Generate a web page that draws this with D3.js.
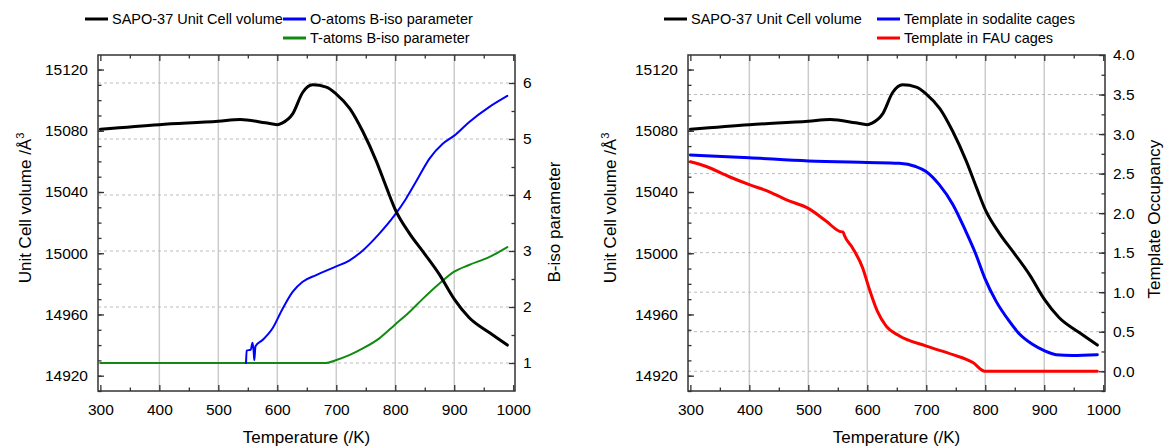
<!DOCTYPE html>
<html>
<head>
<meta charset="utf-8">
<script src="https://cdn.jsdelivr.net/npm/d3@7"></script>
<style>
  body { margin: 0; background: #fff; }
  svg { font-family: "Liberation Sans", Arial, sans-serif; }
  .tick text { font-size: 15.5px; fill: #000; }
  .tick line { stroke: #333; stroke-width: 1.3; }
  .legend text { font-size: 14.5px; }
  .title { font-size: 17px; }
</style>
</head>
<body>
<svg id="graphic-svg" width="1166" height="447"></svg>
<script>
////////////////////////////////////////////////////////////////////////////////////
// Data
// Unit cell volume, same curve in both panels
var temp_cell = [300, 400, 500, 537, 580, 600, 608, 626, 643, 660, 683, 700, 723, 745, 768, 785, 800, 824, 847, 875, 900, 925, 960, 990];
var cellVolume = [15081, 15084, 15086.2, 15087.3, 15085.2, 15084, 15085, 15091, 15105, 15110, 15108.5, 15104, 15094.5, 15079.5, 15060, 15043, 15028.5, 15013, 15001, 14986, 14970, 14958, 14948, 14940];

// Left panel: B-iso parameters
var temp_O = [547, 548, 555, 558, 560, 561, 563, 575, 592, 609, 626, 643, 666, 699, 722, 745, 773, 799, 818, 838, 858, 880, 900, 925, 959, 990];
var bisoO = [1.0, 1.22, 1.24, 1.36, 1.2, 1.05, 1.3, 1.41, 1.62, 1.97, 2.27, 2.45, 2.57, 2.72, 2.83, 3.01, 3.31, 3.64, 3.93, 4.29, 4.65, 4.91, 5.06, 5.3, 5.57, 5.77];
var temp_T = [300, 682, 699, 722, 745, 773, 799, 824, 847, 875, 900, 925, 959, 990];
var bisoT = [1.0, 1.0, 1.05, 1.14, 1.26, 1.44, 1.68, 1.91, 2.15, 2.42, 2.63, 2.75, 2.89, 3.07];

// Right panel: template occupancy
var temp_sod = [300, 400, 500, 600, 654, 682, 699, 722, 745, 767, 784, 799, 818, 841, 858, 880, 900, 920, 948, 990];
var occSodalite = [2.735, 2.70, 2.66, 2.64, 2.63, 2.59, 2.53, 2.36, 2.11, 1.77, 1.48, 1.18, 0.89, 0.63, 0.47, 0.34, 0.26, 0.21, 0.20, 0.21];
var temp_fau = [300, 327, 366, 400, 434, 462, 500, 530, 553, 559, 561, 575, 592, 603, 617, 632, 654, 699, 745, 779, 799, 990];
var occFAU = [2.65, 2.59, 2.46, 2.36, 2.27, 2.17, 2.06, 1.90, 1.77, 1.76, 1.72, 1.56, 1.31, 1.05, 0.76, 0.57, 0.45, 0.32, 0.21, 0.11, 0.0, 0.0];

// Ticks
var xMajor = d3.range(300, 1001, 100);
var xMinor = d3.range(350, 1000, 100);
var volMajor = d3.range(14920, 15121, 40);
var volMinor = d3.range(14910, 15130, 10);
var bisoMajor = [1, 2, 3, 4, 5, 6];
var bisoMinor = [1.5, 2.5, 3.5, 4.5, 5.5];
var occMajor = d3.range(0, 4.01, 0.5);
var occMinor = d3.range(-0.25, 4, 0.25);

////////////////////////////////////////////////////////////////////////////////////
var svg = d3.select("#graphic-svg");
var blue = "#0000ff", green = "#128a12", red = "#ff0000";

function zip(xs, ys) { return xs.map(function(x, i) { return [x, ys[i]]; }); }

function drawPanel(p) {
  var g = svg.append("g");
  var xScale = d3.scaleLinear().domain([296, 1003]).range([p.x0, p.x1]);
  var yVol = d3.scaleLinear().domain([14910, 15129.5]).range([p.y1, p.y0]);
  var yRight = d3.scaleLinear().domain(p.rightDomain).range([p.y1, p.y0]);

  // vertical grid (solid) and horizontal grid (dashed, from right axis)
  g.selectAll(".vgrid")
   .data(xMajor.slice(1, -1))
   .enter()
   .append("line")
   .attr("x1", function(d) { return xScale(d); })
   .attr("x2", function(d) { return xScale(d); })
   .attr("y1", p.y0).attr("y2", p.y1)
   .style("stroke", "#cccccc").style("stroke-width", 1.5);
  g.selectAll(".hgrid")
   .data(p.rightMajor.filter(function(d) { return yRight(d) > p.y0 + 2; }))
   .enter()
   .append("line")
   .attr("x1", p.x0).attr("x2", p.x1)
   .attr("y1", function(d) { return yRight(d); })
   .attr("y2", function(d) { return yRight(d); })
   .style("stroke", "#bbbbbb").style("stroke-width", 1)
   .style("stroke-dasharray", "3,3");

  // axes, ticks pointing inward
  function axis(gen, vals, size, tx, ty, fmt, pad) {
    var a = gen.tickValues(vals).tickSize(-size).tickPadding(pad || 0)
               .tickFormat(fmt || "");
    var ag = g.append("g").attr("transform", "translate(" + tx + "," + ty + ")").call(a);
    ag.select(".domain").remove();
    return ag;
  }
  axis(d3.axisBottom(xScale), xMajor, 6, 0, p.y1, d3.format("d"), 13);
  axis(d3.axisBottom(xScale), xMinor, 3.5, 0, p.y1);
  axis(d3.axisTop(xScale), xMajor, 6, 0, p.y0);
  axis(d3.axisTop(xScale), xMinor, 3.5, 0, p.y0);
  axis(d3.axisLeft(yVol), volMajor, 6, p.x0, 0, d3.format("d"), 10);
  axis(d3.axisLeft(yVol), volMinor, 3.5, p.x0, 0);
  axis(d3.axisRight(yRight), p.rightMajor, 6, p.x1, 0, p.rightFormat, 8);
  axis(d3.axisRight(yRight), p.rightMinor, 3.5, p.x1, 0);

  // frame
  g.append("rect")
   .attr("x", p.x0).attr("y", p.y0)
   .attr("width", p.x1 - p.x0).attr("height", p.y1 - p.y0)
   .style("fill", "none").style("stroke", "#333").style("stroke-width", 1.5);

  // series
  var lineVol = d3.line().curve(d3.curveMonotoneX)
                  .x(function(d) { return xScale(d[0]); })
                  .y(function(d) { return yVol(d[1]); });
  var lineRight = d3.line().curve(d3.curveMonotoneX)
                    .x(function(d) { return xScale(d[0]); })
                    .y(function(d) { return yRight(d[1]); });
  p.series.forEach(function(s) {
    g.append("path")
     .datum(zip(s.x, s.y))
     .attr("d", s.vol ? lineVol : lineRight)
     .style("fill", "none")
     .style("stroke", s.color)
     .style("stroke-width", s.width)
     .style("stroke-linejoin", "round")
     .style("stroke-linecap", "round");
  });

  // legend
  var leg = g.append("g").attr("class", "legend");
  p.legend.forEach(function(l) {
    leg.append("line")
       .attr("x1", l.x).attr("x2", l.x + 23)
       .attr("y1", l.y).attr("y2", l.y)
       .style("stroke", l.color).style("stroke-width", 3);
    leg.append("text")
       .attr("x", l.x + 27).attr("y", l.y + 5)
       .text(l.label);
  });

  // axis titles
  g.append("text").attr("class", "title")
   .attr("text-anchor", "middle")
   .attr("x", (p.x0 + p.x1) / 2).attr("y", 443)
   .text("Temperature (/K)");
  var lt = g.append("text").attr("class", "title")
            .attr("text-anchor", "middle")
            .attr("transform", "translate(" + p.leftTitleX + ",208) rotate(-90)");
  lt.append("tspan").text("Unit Cell volume /\u00c5");
  lt.append("tspan").attr("dy", -7).style("font-size", "11px").text("3");
  g.append("text").attr("class", "title")
   .attr("text-anchor", "middle")
   .attr("transform", "translate(" + p.rightTitleX + "," + p.rightTitleY + ") rotate(-90)")
   .text(p.rightTitle);
}

// Left panel
drawPanel({
  x0: 98, x1: 515, y0: 55, y1: 391,
  rightDomain: [0.5, 6.5], rightMajor: bisoMajor, rightMinor: bisoMinor,
  rightFormat: d3.format("d"),
  leftTitleX: 31, rightTitleX: 560, rightTitleY: 222, rightTitle: "B-iso parameter",
  series: [
    {x: temp_T, y: bisoT, color: green, width: 2},
    {x: temp_O, y: bisoO, color: blue, width: 2},
    {x: temp_cell, y: cellVolume, color: "#000", width: 3, vol: true}
  ],
  legend: [
    {x: 85, y: 19, color: "#000", label: "SAPO-37 Unit Cell volume"},
    {x: 283, y: 19, color: blue, label: "O-atoms B-iso parameter"},
    {x: 283, y: 38, color: green, label: "T-atoms B-iso parameter"}
  ]
});

// Right panel
drawPanel({
  x0: 688, x1: 1105, y0: 55, y1: 391,
  rightDomain: [-0.25, 4.0], rightMajor: occMajor, rightMinor: occMinor,
  rightFormat: d3.format(".1f"),
  leftTitleX: 616, rightTitleX: 1160, rightTitleY: 219, rightTitle: "Template Occupancy",
  series: [
    {x: temp_fau, y: occFAU, color: red, width: 3},
    {x: temp_sod, y: occSodalite, color: blue, width: 3},
    {x: temp_cell, y: cellVolume, color: "#000", width: 3, vol: true}
  ],
  legend: [
    {x: 664, y: 19, color: "#000", label: "SAPO-37 Unit Cell volume"},
    {x: 877, y: 19, color: blue, label: "Template in sodalite cages"},
    {x: 877, y: 38, color: red, label: "Template in FAU cages"}
  ]
});
</script>
</body>
</html>
